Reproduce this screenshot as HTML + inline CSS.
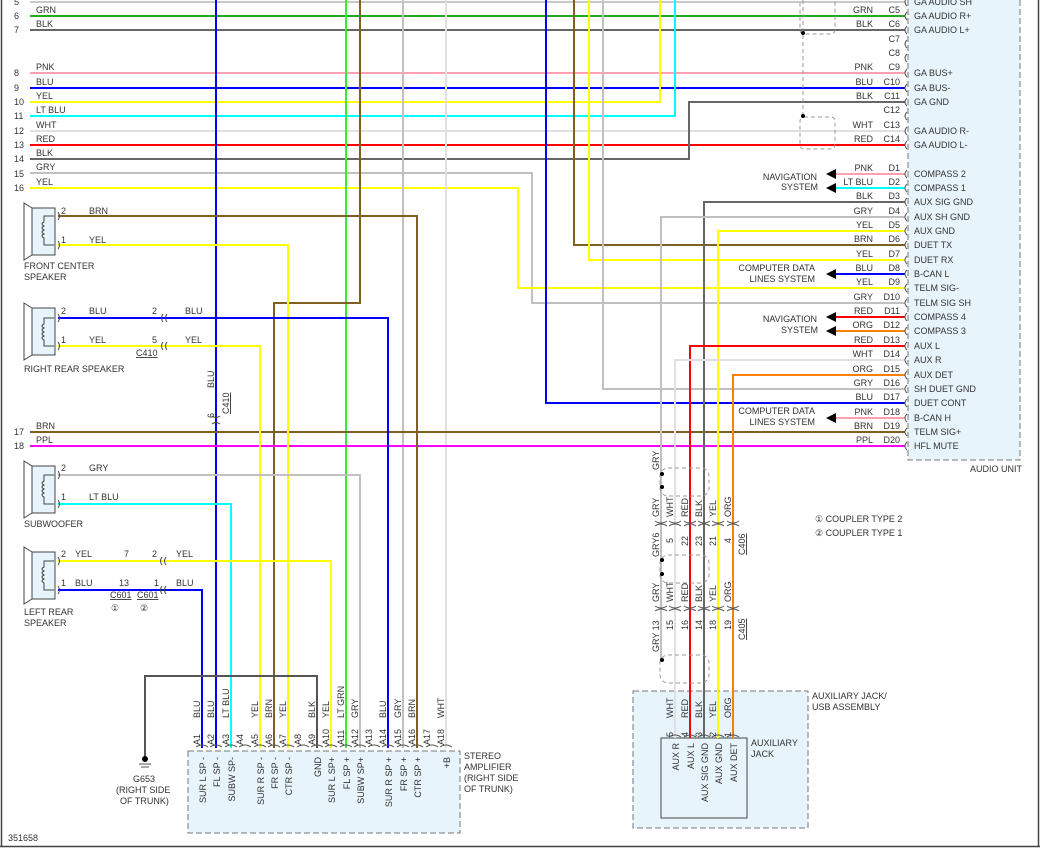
<!DOCTYPE html>
<html><head><meta charset="utf-8"><style>
html,body{margin:0;padding:0;background:#fff}
svg{display:block}
text{font-family:"Liberation Sans",sans-serif;font-size:9px;fill:#333}
.w{fill:none;stroke-width:2}
</style></head><body>
<svg width="1046" height="854" viewBox="0 0 1046 854" xmlns="http://www.w3.org/2000/svg">
<rect x="0" y="0" width="1046" height="854" fill="#fff"/>
<line x1="1.5" y1="0" x2="1.5" y2="847" stroke="#444" stroke-width="1.5"/>
<line x1="0" y1="846.5" x2="1040" y2="846.5" stroke="#444" stroke-width="1.5"/>
<line x1="1038.5" y1="0" x2="1038.5" y2="847" stroke="#444" stroke-width="1.5"/>

<rect x="908" y="-5" width="112" height="465" fill="#e8f4fb" stroke="#777" stroke-dasharray="6,3"/>
<text x="970" y="472">AUDIO UNIT</text>
<rect x="633" y="691" width="175" height="137" fill="#e8f4fb" stroke="#777" stroke-dasharray="6,3"/>
<rect x="661" y="738" width="86" height="80" fill="#e8f4fb" stroke="#444"/>
<text x="812" y="699">AUXILIARY JACK/</text><text x="812" y="710">USB ASSEMBLY</text>
<text x="751" y="746">AUXILIARY</text><text x="751" y="757">JACK</text>
<rect x="188" y="751" width="272" height="82" fill="#e8f4fb" stroke="#777" stroke-dasharray="6,3"/>
<text x="464" y="759">STEREO</text><text x="464" y="770">AMPLIFIER</text><text x="464" y="781">(RIGHT SIDE</text><text x="464" y="792">OF TRUNK)</text>

<g class="w">
<line x1="30" y1="2" x2="905" y2="2" stroke="#c8c8c8"/>
<line x1="30" y1="16" x2="905" y2="16" stroke="#22aa22"/>
<line x1="30" y1="30" x2="905" y2="30" stroke="#666"/>
<line x1="30" y1="73" x2="905" y2="73" stroke="#ffa0b0"/>
<line x1="30" y1="88" x2="905" y2="88" stroke="#0000ff"/>
<polyline points="30,102 660,102 660,0" stroke="#ffff00"/>
<polyline points="30,116 675,116 675,0" stroke="#00ffff"/>
<line x1="30" y1="131" x2="905" y2="131" stroke="#e0e0e0"/>
<line x1="30" y1="145" x2="905" y2="145" stroke="#ff0000"/>
<polyline points="30,159 689,159 689,102 905,102" stroke="#666"/>
<polyline points="30,173 532,173 532,303 905,303" stroke="#c0c0c0"/>
<polyline points="30,188 518,188 518,288 905,288" stroke="#ffff00"/>
<line x1="216" y1="0" x2="216" y2="748" stroke="#0000ff"/>
<line x1="346" y1="0" x2="346" y2="748" stroke="#33ee33"/>
<polyline points="360,0 360,303 274,303 274,748" stroke="#806020"/>
<line x1="403" y1="0" x2="403" y2="748" stroke="#c0c0c0"/>
<line x1="446" y1="0" x2="446" y2="748" stroke="#e0e0e0"/>
<polyline points="546,0 546,403 905,403" stroke="#0000ff"/>
<polyline points="574,0 574,245 905,245" stroke="#806020"/>
<polyline points="589,0 589,260 905,260" stroke="#ffff00"/>
<polyline points="603,0 603,389 905,389" stroke="#c0c0c0"/>
<line x1="30" y1="432" x2="905" y2="432" stroke="#806020"/>
<line x1="30" y1="446" x2="905" y2="446" stroke="#ff00ff"/>
<polyline points="905,202 704,202 704,738" stroke="#666"/>
<polyline points="905,217 661,217 661,660" stroke="#c0c0c0"/>
<polyline points="905,231 718,231 718,738" stroke="#ffff00"/>
<polyline points="905,346 690,346 690,738" stroke="#ff0000"/>
<polyline points="905,360 675,360 675,738" stroke="#e0e0e0"/>
<polyline points="905,375 733,375 733,738" stroke="#ff8000"/>
<line x1="834" y1="174" x2="905" y2="174" stroke="#ffa0b0"/>
<line x1="834" y1="188" x2="905" y2="188" stroke="#00ffff"/>
<line x1="834" y1="274" x2="905" y2="274" stroke="#0000ff"/>
<line x1="834" y1="317" x2="905" y2="317" stroke="#ff0000"/>
<line x1="834" y1="331" x2="905" y2="331" stroke="#ff8000"/>
<line x1="834" y1="418" x2="905" y2="418" stroke="#ffa0b0"/>
<polyline points="58,216 417,216 417,748" stroke="#806020"/>
<polyline points="58,245 288,245 288,748" stroke="#ffff00"/>
<polyline points="58,318 388,318 388,748" stroke="#0000ff"/>
<polyline points="58,346 260,346 260,748" stroke="#ffff00"/>
<polyline points="58,475 360,475 360,748" stroke="#c0c0c0"/>
<polyline points="58,504 231,504 231,748" stroke="#00ffff"/>
<polyline points="58,561 331,561 331,748" stroke="#ffff00"/>
<polyline points="58,590 202,590 202,748" stroke="#0000ff"/>
<polyline points="317,748 317,676 145,676 145,757" stroke="#555"/>
</g>
<g fill="#000">
<polygon points="826,174 836,169 836,179"/><polygon points="826,188 836,183 836,193"/>
<polygon points="826,274 836,269 836,279"/><polygon points="826,317 836,312 836,322"/>
<polygon points="826,331 836,326 836,336"/><polygon points="826,418 836,413 836,423"/>
</g>
<circle cx="145" cy="759" r="3" fill="#000"/>
<line x1="139" y1="764" x2="151" y2="764" stroke="#555"/><line x1="141" y1="767" x2="149" y2="767" stroke="#555"/>
<text x="133" y="782">G653</text><text x="116" y="793">(RIGHT SIDE</text><text x="120" y="804">OF TRUNK)</text>
<text x="8" y="841">351658</text>

<g fill="none" stroke="#999" stroke-dasharray="4,3">
<line x1="803" y1="0" x2="803" y2="118"/>
<rect x="800" y="-4" width="35" height="38" rx="4"/>
<rect x="800" y="117" width="35" height="32" rx="4"/>
<rect x="660" y="468" width="49" height="28" rx="8"/>
<rect x="660" y="555" width="49" height="28" rx="8"/>
<rect x="660" y="655" width="49" height="28" rx="8"/>
</g>
<g fill="#000"><circle cx="803" cy="33" r="2"/><circle cx="803" cy="116" r="2"/><circle cx="662" cy="474" r="2"/><circle cx="662" cy="487" r="2"/><circle cx="662" cy="560" r="2"/><circle cx="662" cy="574" r="2"/><circle cx="662" cy="660" r="2"/></g>

<!-- pin arcs -->
<g fill="none" stroke="#555">
<path d="M196,747 q6,-4 12,0 M210,747 q6,-4 12,0 M225,747 q6,-4 12,0 M239,747 q6,-4 12,0 M254,747 q6,-4 12,0 M268,747 q6,-4 12,0 M282,747 q6,-4 12,0 M297,747 q6,-4 12,0 M311,747 q6,-4 12,0 M325,747 q6,-4 12,0 M340,747 q6,-4 12,0 M354,747 q6,-4 12,0 M368,747 q6,-4 12,0 M382,747 q6,-4 12,0 M397,747 q6,-4 12,0 M411,747 q6,-4 12,0 M426,747 q6,-4 12,0 M440,747 q6,-4 12,0"/>
<path d="M669,737 q6,-4 12,0 M684,737 q6,-4 12,0 M698,737 q6,-4 12,0 M712,737 q6,-4 12,0 M727,737 q6,-4 12,0"/>
<path d="M655,521 q6,4 12,0 M669,521 q6,4 12,0 M684,521 q6,4 12,0 M698,521 q6,4 12,0 M712,521 q6,4 12,0 M727,521 q6,4 12,0 M655,526 q6,-4 12,0 M669,526 q6,-4 12,0 M684,526 q6,-4 12,0 M698,526 q6,-4 12,0 M712,526 q6,-4 12,0 M727,526 q6,-4 12,0"/>
<path d="M655,606 q6,4 12,0 M669,606 q6,4 12,0 M684,606 q6,4 12,0 M698,606 q6,4 12,0 M712,606 q6,4 12,0 M727,606 q6,4 12,0 M655,611 q6,-4 12,0 M669,611 q6,-4 12,0 M684,611 q6,-4 12,0 M698,611 q6,-4 12,0 M712,611 q6,-4 12,0 M727,611 q6,-4 12,0"/>
</g>

<g stroke="#444" fill="#e8f4fb">
<path d="M24,203 L32,208 L32,255 L24,260 Z" fill="#fff"/><rect x="32" y="208" width="23" height="47"/>
<path d="M24,303 L32,308 L32,355 L24,360 Z" fill="#fff"/><rect x="32" y="308" width="23" height="47"/>
<path d="M24,461 L32,466 L32,513 L24,518 Z" fill="#fff"/><rect x="32" y="466" width="23" height="47"/>
<path d="M24,547 L32,552 L32,599 L24,604 Z" fill="#fff"/><rect x="32" y="552" width="23" height="47"/>
</g>
<g fill="none" stroke="#444">
<path d="M54,216 L44,216 L44,222 q-4,2 0,4 q-4,2 0,4 q-4,2 0,4 q-4,2 0,4 L44,245 L54,245 M58,212 q3,4 0,8 M58,241 q3,4 0,8"/>
<path d="M54,318 L44,318 L44,324 q-4,2 0,4 q-4,2 0,4 q-4,2 0,4 q-4,2 0,4 L44,346 L54,346 M58,314 q3,4 0,8 M58,342 q3,4 0,8"/>
<path d="M54,475 L44,475 L44,481 q-4,2 0,4 q-4,2 0,4 q-4,2 0,4 q-4,2 0,4 L44,504 L54,504 M58,471 q3,4 0,8 M58,500 q3,4 0,8"/>
<path d="M54,561 L44,561 L44,567 q-4,2 0,4 q-4,2 0,4 q-4,2 0,4 q-4,2 0,4 L44,590 L54,590 M58,557 q3,4 0,8 M58,586 q3,4 0,8"/>
<path d="M163,314 q-3,4 0,8 M167,314 q-3,4 0,8 M163,342 q-3,4 0,8 M167,342 q-3,4 0,8 M162,557 q-3,4 0,8 M166,557 q-3,4 0,8 M162,586 q-3,4 0,8 M166,586 q-3,4 0,8 M212,416 q4,3 8,0 M212,424 q4,-3 8,0"/>
</g>
<g>
<text x="61" y="214">2</text><text x="89" y="214">BRN</text><text x="61" y="243">1</text><text x="89" y="243">YEL</text>
<text x="24" y="269">FRONT CENTER</text><text x="24" y="280">SPEAKER</text>
<text x="61" y="314">2</text><text x="89" y="314">BLU</text><text x="152" y="314">2</text><text x="185" y="314">BLU</text>
<text x="61" y="343">1</text><text x="89" y="343">YEL</text><text x="152" y="343">5</text><text x="185" y="343">YEL</text>
<text x="136" y="356" text-decoration="underline">C410</text>
<text x="24" y="372">RIGHT REAR SPEAKER</text>
<text x="61" y="471">2</text><text x="89" y="471">GRY</text><text x="61" y="500">1</text><text x="89" y="500">LT BLU</text>
<text x="24" y="527">SUBWOOFER</text>
<text x="61" y="557">2</text><text x="75" y="557">YEL</text><text x="124" y="557">7</text><text x="152" y="557">2</text><text x="176" y="557">YEL</text>
<text x="61" y="586">1</text><text x="75" y="586">BLU</text><text x="119" y="586">13</text><text x="154" y="586">1</text><text x="176" y="586">BLU</text>
<text x="110" y="598" text-decoration="underline">C601</text><text x="137" y="598" text-decoration="underline">C601</text>
<text x="111" y="611">①</text><text x="140" y="611">②</text>
<text x="24" y="615">LEFT REAR</text><text x="24" y="626">SPEAKER</text>
<text transform="translate(214,388) rotate(-90)">BLU</text>
<text transform="translate(229,414) rotate(-90)" text-decoration="underline">C410</text>
<text transform="translate(214,418) rotate(-90)">6</text>
</g>
<g>
<text x="14" y="5">5</text><text x="14" y="19">6</text><text x="36" y="13">GRN</text><text x="14" y="33">7</text><text x="36" y="27">BLK</text>
<text x="14" y="76">8</text><text x="36" y="70">PNK</text><text x="14" y="91">9</text><text x="36" y="85">BLU</text>
<text x="14" y="105">10</text><text x="36" y="99">YEL</text><text x="14" y="119">11</text><text x="36" y="113">LT BLU</text>
<text x="14" y="134">12</text><text x="36" y="128">WHT</text><text x="14" y="148">13</text><text x="36" y="142">RED</text>
<text x="14" y="162">14</text><text x="36" y="156">BLK</text><text x="14" y="177">15</text><text x="36" y="170">GRY</text>
<text x="14" y="191">16</text><text x="36" y="185">YEL</text>
<text x="14" y="435">17</text><text x="36" y="429">BRN</text><text x="14" y="449">18</text><text x="36" y="443">PPL</text>
</g>
<g text-anchor="end">
<text x="873" y="13">GRN</text><text x="900" y="13">C5</text>
<text x="873" y="27">BLK</text><text x="900" y="27">C6</text>
<text x="900" y="42">C7</text><text x="900" y="56">C8</text>
<text x="873" y="70">PNK</text><text x="900" y="70">C9</text>
<text x="873" y="85">BLU</text><text x="900" y="85">C10</text>
<text x="873" y="99">BLK</text><text x="900" y="99">C11</text>
<text x="900" y="113">C12</text>
<text x="873" y="128">WHT</text><text x="900" y="128">C13</text>
<text x="873" y="142">RED</text><text x="900" y="142">C14</text>
<text x="873" y="171">PNK</text><text x="900" y="171">D1</text>
<text x="873" y="185">LT BLU</text><text x="900" y="185">D2</text>
<text x="873" y="199">BLK</text><text x="900" y="199">D3</text>
<text x="873" y="214">GRY</text><text x="900" y="214">D4</text>
<text x="873" y="228">YEL</text><text x="900" y="228">D5</text>
<text x="873" y="242">BRN</text><text x="900" y="242">D6</text>
<text x="873" y="257">YEL</text><text x="900" y="257">D7</text>
<text x="873" y="271">BLU</text><text x="900" y="271">D8</text>
<text x="873" y="285">YEL</text><text x="900" y="285">D9</text>
<text x="873" y="300">GRY</text><text x="900" y="300">D10</text>
<text x="873" y="314">RED</text><text x="900" y="314">D11</text>
<text x="873" y="328">ORG</text><text x="900" y="328">D12</text>
<text x="873" y="343">RED</text><text x="900" y="343">D13</text>
<text x="873" y="357">WHT</text><text x="900" y="357">D14</text>
<text x="873" y="372">ORG</text><text x="900" y="372">D15</text>
<text x="873" y="386">GRY</text><text x="900" y="386">D16</text>
<text x="873" y="400">BLU</text><text x="900" y="400">D17</text>
<text x="873" y="415">PNK</text><text x="900" y="415">D18</text>
<text x="873" y="429">BRN</text><text x="900" y="429">D19</text>
<text x="873" y="443">PPL</text><text x="900" y="443">D20</text>
<text x="817" y="180">NAVIGATION</text><text x="818" y="190">SYSTEM</text>
<text x="815" y="271">COMPUTER DATA</text><text x="815" y="282">LINES SYSTEM</text>
<text x="817" y="322">NAVIGATION</text><text x="818" y="333">SYSTEM</text>
<text x="815" y="414">COMPUTER DATA</text><text x="815" y="425">LINES SYSTEM</text>
</g>
<g fill="none" stroke="#555">
<path d="M907,-2 q-4,4 0,8 M907,12 q-4,4 0,8 M907,26 q-4,4 0,8 M907,40 q-4,4 0,8 M907,54 q-4,4 0,8 M907,69 q-4,4 0,8 M907,84 q-4,4 0,8 M907,98 q-4,4 0,8 M907,112 q-4,4 0,8 M907,127 q-4,4 0,8 M907,141 q-4,4 0,8 M907,170 q-4,4 0,8 M907,184 q-4,4 0,8 M907,198 q-4,4 0,8 M907,213 q-4,4 0,8 M907,227 q-4,4 0,8 M907,241 q-4,4 0,8 M907,256 q-4,4 0,8 M907,270 q-4,4 0,8 M907,284 q-4,4 0,8 M907,299 q-4,4 0,8 M907,313 q-4,4 0,8 M907,327 q-4,4 0,8 M907,342 q-4,4 0,8 M907,356 q-4,4 0,8 M907,371 q-4,4 0,8 M907,385 q-4,4 0,8 M907,399 q-4,4 0,8 M907,414 q-4,4 0,8 M907,428 q-4,4 0,8 M907,442 q-4,4 0,8"/>
</g>
<g>
<text x="914" y="5">GA AUDIO SH</text><text x="914" y="19">GA AUDIO R+</text><text x="914" y="33">GA AUDIO L+</text>
<text x="914" y="76">GA BUS+</text><text x="914" y="91">GA BUS-</text><text x="914" y="105">GA GND</text>
<text x="914" y="134">GA AUDIO R-</text><text x="914" y="148">GA AUDIO L-</text>
<text x="914" y="177">COMPASS 2</text><text x="914" y="191">COMPASS 1</text><text x="914" y="205">AUX SIG GND</text>
<text x="914" y="220">AUX SH GND</text><text x="914" y="234">AUX GND</text><text x="914" y="248">DUET TX</text>
<text x="914" y="263">DUET RX</text><text x="914" y="277">B-CAN L</text><text x="914" y="291">TELM SIG-</text>
<text x="914" y="306">TELM SIG SH</text><text x="914" y="320">COMPASS 4</text><text x="914" y="334">COMPASS 3</text>
<text x="914" y="349">AUX L</text><text x="914" y="363">AUX R</text><text x="914" y="378">AUX DET</text>
<text x="914" y="392">SH DUET GND</text><text x="914" y="406">DUET CONT</text><text x="914" y="421">B-CAN H</text>
<text x="914" y="435">TELM SIG+</text><text x="914" y="449">HFL MUTE</text>
<text x="815" y="522">① COUPLER TYPE 2</text><text x="815" y="536">② COUPLER TYPE 1</text>
</g>

<g>
<text transform="translate(659,470) rotate(-90)">GRY</text>
<text transform="translate(659,517) rotate(-90)">GRY</text><text transform="translate(673,517) rotate(-90)">WHT</text>
<text transform="translate(688,517) rotate(-90)">RED</text><text transform="translate(702,517) rotate(-90)">BLK</text>
<text transform="translate(716,517) rotate(-90)">YEL</text><text transform="translate(731,517) rotate(-90)">ORG</text>
<text transform="translate(659,557) rotate(-90)">GRY6</text><text transform="translate(673,543) rotate(-90)">5</text>
<text transform="translate(688,546) rotate(-90)">22</text><text transform="translate(702,546) rotate(-90)">23</text>
<text transform="translate(716,546) rotate(-90)">21</text><text transform="translate(731,543) rotate(-90)">4</text>
<text transform="translate(745,555) rotate(-90)" text-decoration="underline">C406</text>
<text transform="translate(659,602) rotate(-90)">GRY</text><text transform="translate(673,602) rotate(-90)">WHT</text>
<text transform="translate(688,602) rotate(-90)">RED</text><text transform="translate(702,602) rotate(-90)">BLK</text>
<text transform="translate(716,602) rotate(-90)">YEL</text><text transform="translate(731,602) rotate(-90)">ORG</text>
<text transform="translate(659,652) rotate(-90)">GRY 13</text><text transform="translate(673,630) rotate(-90)">15</text>
<text transform="translate(688,630) rotate(-90)">16</text><text transform="translate(702,630) rotate(-90)">14</text>
<text transform="translate(716,630) rotate(-90)">18</text><text transform="translate(731,630) rotate(-90)">19</text>
<text transform="translate(745,640) rotate(-90)" text-decoration="underline">C405</text>
<text transform="translate(673,718) rotate(-90)">WHT</text><text transform="translate(688,718) rotate(-90)">RED</text>
<text transform="translate(702,718) rotate(-90)">BLK</text><text transform="translate(716,718) rotate(-90)">YEL</text>
<text transform="translate(731,718) rotate(-90)">ORG</text>
<text transform="translate(673,737) rotate(-90)">5</text><text transform="translate(688,737) rotate(-90)">4</text>
<text transform="translate(702,737) rotate(-90)">3</text><text transform="translate(716,737) rotate(-90)">2</text>
<text transform="translate(731,737) rotate(-90)">1</text>
</g>
<g text-anchor="end">
<text transform="translate(679,743) rotate(-90)">AUX R</text><text transform="translate(694,743) rotate(-90)">AUX L</text>
<text transform="translate(708,743) rotate(-90)">AUX SIG GND</text><text transform="translate(722,743) rotate(-90)">AUX GND</text>
<text transform="translate(737,743) rotate(-90)">AUX DET</text>
</g>

<g>
<text transform="translate(200,718) rotate(-90)">BLU</text><text transform="translate(214,718) rotate(-90)">BLU</text>
<text transform="translate(229,718) rotate(-90)">LT BLU</text><text transform="translate(258,718) rotate(-90)">YEL</text>
<text transform="translate(272,718) rotate(-90)">BRN</text><text transform="translate(286,718) rotate(-90)">YEL</text>
<text transform="translate(315,718) rotate(-90)">BLK</text><text transform="translate(329,718) rotate(-90)">YEL</text>
<text transform="translate(344,718) rotate(-90)">LT GRN</text><text transform="translate(358,718) rotate(-90)">GRY</text>
<text transform="translate(386,718) rotate(-90)">BLU</text><text transform="translate(401,718) rotate(-90)">GRY</text>
<text transform="translate(415,718) rotate(-90)">BRN</text><text transform="translate(444,718) rotate(-90)">WHT</text>
<text transform="translate(200,745) rotate(-90)">A1</text><text transform="translate(214,745) rotate(-90)">A2</text>
<text transform="translate(229,745) rotate(-90)">A3</text><text transform="translate(243,745) rotate(-90)">A4</text>
<text transform="translate(258,745) rotate(-90)">A5</text><text transform="translate(272,745) rotate(-90)">A6</text>
<text transform="translate(286,745) rotate(-90)">A7</text><text transform="translate(301,745) rotate(-90)">A8</text>
<text transform="translate(315,745) rotate(-90)">A9</text><text transform="translate(329,745) rotate(-90)">A10</text>
<text transform="translate(344,745) rotate(-90)">A11</text><text transform="translate(358,745) rotate(-90)">A12</text>
<text transform="translate(372,745) rotate(-90)">A13</text><text transform="translate(386,745) rotate(-90)">A14</text>
<text transform="translate(401,745) rotate(-90)">A15</text><text transform="translate(415,745) rotate(-90)">A16</text>
<text transform="translate(430,745) rotate(-90)">A17</text><text transform="translate(444,745) rotate(-90)">A18</text>
</g>
<g text-anchor="end">
<text transform="translate(206,757) rotate(-90)">SUR L SP -</text><text transform="translate(220,757) rotate(-90)">FL SP -</text>
<text transform="translate(235,757) rotate(-90)">SUBW SP-</text><text transform="translate(264,757) rotate(-90)">SUR R SP -</text>
<text transform="translate(278,757) rotate(-90)">FR SP -</text><text transform="translate(292,757) rotate(-90)">CTR SP -</text>
<text transform="translate(321,757) rotate(-90)">GND</text><text transform="translate(335,757) rotate(-90)">SUR L SP+</text>
<text transform="translate(350,757) rotate(-90)">FL SP +</text><text transform="translate(364,757) rotate(-90)">SUBW SP+</text>
<text transform="translate(392,757) rotate(-90)">SUR R SP +</text><text transform="translate(407,757) rotate(-90)">FR SP +</text>
<text transform="translate(421,757) rotate(-90)">CTR SP +</text><text transform="translate(450,757) rotate(-90)">+B</text>
</g>
</svg>
</body></html>
